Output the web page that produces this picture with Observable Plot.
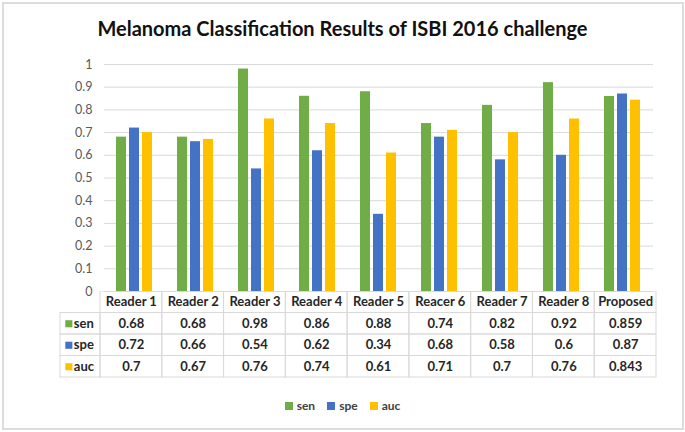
<!DOCTYPE html>
<html>
<head>
<meta charset="utf-8">
<script src="https://cdn.jsdelivr.net/npm/d3@7"></script>
<script src="https://cdn.jsdelivr.net/npm/@observablehq/plot@0.6"></script>
<style>
  html, body { margin: 0; padding: 0; background: #fff; }
  #wrap { position: relative; width: 685px; height: 432px; overflow: hidden; font-family: Lato, "Open Sans", sans-serif; }
  #border { position: absolute; left: 2px; top: 2px; width: 678px; height: 424px; border: 2px solid #dcdcdc; box-sizing: content-box; }
  #title { position: absolute; left: 0; width: 685px; top: 16px; text-align: center; font-weight: bold; font-size: 20px; color: #111; }
  #chart { position: absolute; left: 0; top: 0; }
  #table { position: absolute; left: 0; top: 291px; }
  #legend { position: absolute; top: 398px; left: 0; width: 685px; text-align: center; font-weight: bold; font-size: 12px; color: #404040; }
  #legend span.item { display: inline-block; margin: 0 6px; }
  #legend span.sw { display: inline-block; width: 8px; height: 8px; margin-right: 4px; vertical-align: 0px; }
</style>
</head>
<body>
<div id="wrap">
  <div id="border"></div>
  <div id="chart"></div>
  <div id="table"></div>
  <div id="title">Melanoma Classification Results of ISBI 2016 challenge</div>
  <div id="legend"></div>
</div>
<script>
const categories = ["Reader 1", "Reader 2", "Reader 3", "Reader 4", "Reader 5", "Reacer 6", "Reader 7", "Reader 8", "Proposed"];
const series = ["sen", "spe", "auc"];
const sen = [0.68, 0.68, 0.98, 0.86, 0.88, 0.74, 0.82, 0.92, 0.859];
const spe = [0.72, 0.66, 0.54, 0.62, 0.34, 0.68, 0.58, 0.6, 0.87];
const auc = [0.7, 0.67, 0.76, 0.74, 0.61, 0.71, 0.7, 0.76, 0.843];
const colors = ["#70AD47", "#4472C4", "#FFC000"];
const yTicks = [0, 0.1, 0.2, 0.3, 0.4, 0.5, 0.6, 0.7, 0.8, 0.9, 1];

const values = {sen, spe, auc};
const rows = [];
categories.forEach((c, i) => series.forEach(s => rows.push({cat: c, i, s, v: values[s][i]})));

const gridColor = "#d9d9d9";
const font = "Lato, 'Open Sans', sans-serif";

const chart = Plot.plot({
  width: 685,
  height: 300,
  marginLeft: 100,
  marginRight: 29,
  marginTop: 64,
  marginBottom: 9,
  style: {fontFamily: font, background: "transparent"},
  fx: {domain: categories, padding: 0, axis: null},
  x: {domain: series, paddingInner: 0.215, paddingOuter: 0.895, axis: null},
  y: {domain: [0, 1], axis: null},
  color: {domain: series, range: colors},
  marks: [
    Plot.gridY(yTicks, {stroke: gridColor, strokeOpacity: 1, strokeWidth: 1}),
    Plot.axisY(yTicks, {tickSize: 0, tickPadding: 12, tickFormat: d3.format("~g"), fontSize: 12.5, fill: "#595959", label: null}),
    Plot.barY(rows, {fx: "cat", x: "s", y: "v", fill: "s"})
  ]
});
document.getElementById("chart").appendChild(chart);

// Data table under the chart
const labelStart = -40 / 61.78;
const cells = [];
categories.forEach((c, i) => cells.push({x1: i, x2: i + 1, y1: 0, y2: 1}));
for (let r = 1; r <= 3; r++) {
  cells.push({x1: labelStart, x2: 0, y1: r, y2: r + 1});
  categories.forEach((c, i) => cells.push({x1: i, x2: i + 1, y1: r, y2: r + 1}));
}
const tableText = rows.map(d => ({x: d.i + 0.5, y: series.indexOf(d.s) + 1.5, t: String(d.v)}));

const table = Plot.plot({
  width: 685,
  height: 90,
  marginLeft: 60,
  marginRight: 29,
  marginTop: 0,
  marginBottom: 4,
  style: {fontFamily: font, background: "transparent"},
  x: {domain: [labelStart, 9], axis: null},
  y: {domain: [0, 4], reverse: true, axis: null},
  color: {domain: series, range: colors},
  marks: [
    Plot.rect(cells, {x1: "x1", x2: "x2", y1: "y1", y2: "y2", fill: "none", stroke: gridColor, strokeWidth: 1}),
    Plot.text(categories, {x: (d, i) => i + 0.5, y: 0.5, text: d => d, fontWeight: "bold", fontSize: 13, fill: "#262626"}),
    Plot.text(tableText, {x: "x", y: "y", text: "t", fontWeight: "bold", fontSize: 13, fill: "#262626"}),
    Plot.dot(series, {x: labelStart + 0.135, y: (d, i) => i + 1.5, symbol: "square", r: 4, fill: d => d, stroke: null}),
    Plot.text(series, {x: labelStart + 0.215, y: (d, i) => i + 1.5, text: d => d, textAnchor: "start", fontWeight: "bold", fontSize: 13, fill: "#262626"})
  ]
});
document.getElementById("table").appendChild(table);

// Legend
const legend = document.getElementById("legend");
series.forEach((s, i) => {
  const item = document.createElement("span");
  item.className = "item";
  const sw = document.createElement("span");
  sw.className = "sw";
  sw.style.background = colors[i];
  item.appendChild(sw);
  item.appendChild(document.createTextNode(s));
  legend.appendChild(item);
});
</script>
</body>
</html>
